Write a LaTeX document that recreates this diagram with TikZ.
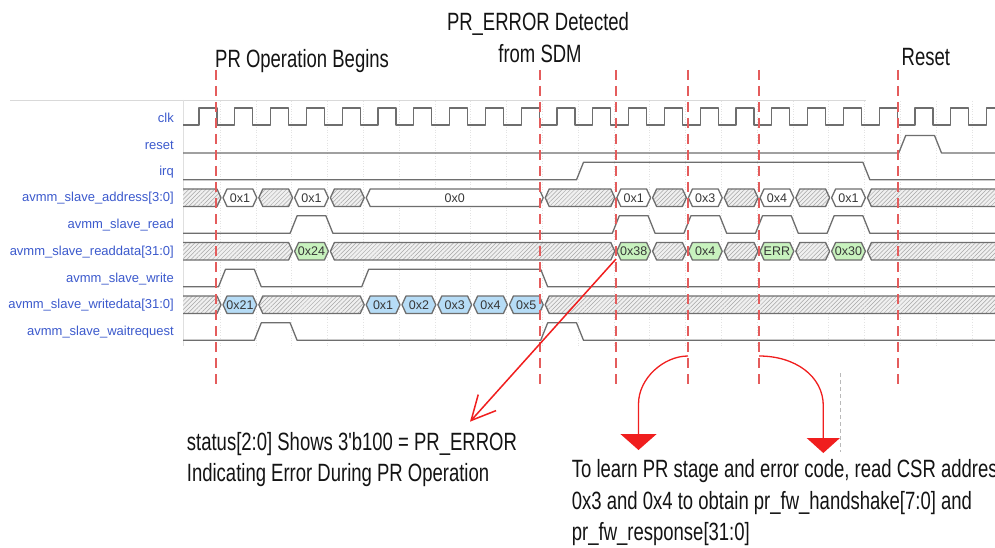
\documentclass[tikz,border=0pt]{standalone}
\usepackage{fontspec}
\usetikzlibrary{arrows.meta,patterns.meta}
\newfontfamily\lsans{Liberation Sans}
\newfontfamily\annfont{Liberation Sans}[FakeStretch=0.74]
\definecolor{sigblue}{RGB}{60,90,205}
\definecolor{wavegray}{RGB}{110,110,110}
\definecolor{dashred}{RGB}{228,92,92}
\definecolor{arrred}{RGB}{240,30,30}
\definecolor{cellgreen}{RGB}{200,242,190}
\definecolor{cellblue}{RGB}{182,220,246}
\definecolor{celltxt}{RGB}{55,55,55}
\tikzset{
  wave/.style={draw=wavegray, line width=1.3pt, line join=round},
  sig/.style={font=\lsans\fontsize{13}{15}\selectfont, text=sigblue, anchor=east, inner sep=0pt},
  ctext/.style={font=\lsans\fontsize{12.5}{14}\selectfont, text=celltxt, inner sep=0pt},
  hatchfill/.style={preaction={fill=gray!12}, pattern={Lines[angle=45,distance=3pt,line width=0.5pt]}, pattern color=gray!70},
  hatchcell/.style={hatchfill, wave},
  whitecell/.style={wave, fill=white},
  greencell/.style={wave, fill=cellgreen},
  bluecell/.style={wave, fill=cellblue},
  marker/.style={draw=dashred, line width=1.6pt, dash pattern=on 10pt off 6pt},
  ann/.style={font=\annfont\fontsize{25}{31.5}\selectfont, text=black!92, inner sep=0pt, anchor=base west},
}
% bus cell between transitions ka and kb on a row centred at c
\newcommand\tdcell[4]{%
  \path[#1] ({222+35.8*#2+1},{#4-0.75}) -- ({222+35.8*#2+5},{#4-9.5}) -- ({222+35.8*#3-5},{#4-9.5})
    -- ({222+35.8*#3-1},{#4-0.75}) -- ({222+35.8*#3-5},{#4+8}) -- ({222+35.8*#2+5},{#4+8}) -- cycle;}
\newcommand\tdval[6]{%
  \tdcell{#1}{#2}{#3}{#4}%
  \node[ctext] (#5) at ({222+35.8*(#2+#3)/2},{#4-0.5}) {#6};}
\newcommand\tdfirst[2]{% hatch from wave start to transition #1, row #2
  \path[hatchfill] (183,{#2-9.5}) -- ({222+35.8*#1-5},{#2-9.5}) -- ({222+35.8*#1-1},{#2-0.75})
    -- ({222+35.8*#1-5},{#2+8}) -- (183,{#2+8}) -- cycle;
  \draw[wave] (183,{#2-9.5}) -- ({222+35.8*#1-5},{#2-9.5}) -- ({222+35.8*#1-1},{#2-0.75})
    -- ({222+35.8*#1-5},{#2+8}) -- (183,{#2+8});}
\newcommand\tdlast[2]{% hatch from transition #1 to the right edge, row #2
  \path[hatchfill] (1000,{#2-9.5}) -- ({222+35.8*#1+5},{#2-9.5}) -- ({222+35.8*#1+1},{#2-0.75})
    -- ({222+35.8*#1+5},{#2+8}) -- (1000,{#2+8}) -- cycle;
  \draw[wave] (1000,{#2-9.5}) -- ({222+35.8*#1+5},{#2-9.5}) -- ({222+35.8*#1+1},{#2-0.75})
    -- ({222+35.8*#1+5},{#2+8}) -- (1000,{#2+8});}
\begin{document}
\begin{tikzpicture}[x=1pt,y=-1pt]
\useasboundingbox (0,0) rectangle (995,548);
\clip (0,0) rectangle (995,548);
\fill[white] (0,0) rectangle (995,548);
% frame and grid
\draw[gray!30, line width=.8pt] (10,100) -- (866,100);
\draw[gray!25, line width=.8pt] (183,100) -- (183,346);
\foreach \k in {0,...,21} \draw[gray!22, line width=.6pt, dotted] ({220+35.8*\k},101) -- ({220+35.8*\k},346);
% signal names
\node[sig] (lclk) at (174,118.3) {clk};
\node[sig] (lreset) at (174,145) {reset};
\node[sig] (lirq) at (174,171.8) {irq};
\node[sig] (laddr) at (174,198.5) {avmm\_slave\_address[3:0]};
\node[sig] (lread) at (174,225.3) {avmm\_slave\_read};
\node[sig] (lrdata) at (174,252) {avmm\_slave\_readdata[31:0]};
\node[sig] (lwrite) at (174,278.8) {avmm\_slave\_write};
\node[sig] (lwdata) at (174,305.5) {avmm\_slave\_writedata[31:0]};
\node[sig] (lwait) at (174,332.3) {avmm\_slave\_waitrequest};
% clk
\draw[wave] (183,125) foreach \k in {0,...,22} { -- ({199+35.8*\k},125) -- ({199+35.8*\k},108) -- ({217+35.8*\k},108) -- ({217+35.8*\k},125) };
% reset
\draw[wave] (183,153) -- (898.7,153) -- (905.7,135.5) -- (934.5,135.5) -- (941.5,153) -- (1000,153);
% irq
\draw[wave] (183,179.8) -- (576.5,179.8) -- (583.5,162.3) -- (862.9,162.3) -- (869.9,179.8) -- (1000,179.8);
% address
\tdfirst{0}{198.5}
\tdval{whitecell}{0}{1}{198.5}{a1}{0x1}
\tdcell{hatchcell}{1}{2}{198.5}
\tdval{whitecell}{2}{3}{198.5}{a2}{0x1}
\tdcell{hatchcell}{3}{4}{198.5}
\tdval{whitecell}{4}{9}{198.5}{a3}{0x0}
\tdcell{hatchcell}{9}{11}{198.5}
\tdval{whitecell}{11}{12}{198.5}{a4}{0x1}
\tdcell{hatchcell}{12}{13}{198.5}
\tdval{whitecell}{13}{14}{198.5}{a5}{0x3}
\tdcell{hatchcell}{14}{15}{198.5}
\tdval{whitecell}{15}{16}{198.5}{a6}{0x4}
\tdcell{hatchcell}{16}{17}{198.5}
\tdval{whitecell}{17}{18}{198.5}{a7}{0x1}
\tdlast{18}{198.5}
% read
\draw[wave] (183,233.3) foreach \a/\b in {2/3,11/12,13/14,15/16,17/18} { -- ({222+35.8*\a-3.5},233.3) -- ({222+35.8*\a+3.5},215.8) -- ({222+35.8*\b-3.5},215.8) -- ({222+35.8*\b+3.5},233.3) } -- (1000,233.3);
% readdata
\tdfirst{2}{252}
\tdval{greencell}{2}{3}{252}{r1}{0x24}
\tdcell{hatchcell}{3}{11}{252}
\tdval{greencell}{11}{12}{252}{r2}{0x38}
\tdcell{hatchcell}{12}{13}{252}
\tdval{greencell}{13}{14}{252}{r3}{0x4}
\tdcell{hatchcell}{14}{15}{252}
\tdval{greencell}{15}{16}{252}{r4}{ERR}
\tdcell{hatchcell}{16}{17}{252}
\tdval{greencell}{17}{18}{252}{r5}{0x30}
\tdlast{18}{252}
% write
\draw[wave] (183,286.8) foreach \a/\b in {0/1,4/9} { -- ({222+35.8*\a-3.5},286.8) -- ({222+35.8*\a+3.5},269.3) -- ({222+35.8*\b-3.5},269.3) -- ({222+35.8*\b+3.5},286.8) } -- (1000,286.8);
% writedata
\tdfirst{0}{305.5}
\tdval{bluecell}{0}{1}{305.5}{w1}{0x21}
\tdcell{hatchcell}{1}{4}{305.5}
\tdval{bluecell}{4}{5}{305.5}{w2}{0x1}
\tdval{bluecell}{5}{6}{305.5}{w3}{0x2}
\tdval{bluecell}{6}{7}{305.5}{w4}{0x3}
\tdval{bluecell}{7}{8}{305.5}{w5}{0x4}
\tdval{bluecell}{8}{9}{305.5}{w6}{0x5}
\tdlast{9}{305.5}
% waitrequest
\draw[wave] (183,340.3) foreach \a/\b in {1/2,9/10} { -- ({222+35.8*\a-3.5},340.3) -- ({222+35.8*\a+3.5},322.8) -- ({222+35.8*\b-3.5},322.8) -- ({222+35.8*\b+3.5},340.3) } -- (1000,340.3);
% event markers
\foreach \x in {216,540,616,688,759,898} \draw[marker] (\x,70) -- (\x,386);
% arrows
\coordinate (errsrc) at (616,259);
\coordinate (errtip) at (470,421.7);
\draw[arrred, line width=1.5pt, -{Straight Barb[length=24pt,width=24pt]}] (errsrc) -- (errtip);
\coordinate (c1s) at (688,356);
\coordinate (c1e) at (638.5,450);
\draw[arrred, line width=1.3pt, -{Triangle[width=36pt,length=16pt]}] (c1s) .. controls (664,356) and (638.5,378) .. (638.5,404) -- (c1e);
\coordinate (c2s) at (759,356);
\coordinate (c2e) at (823.3,453);
\draw[arrred, line width=1.3pt, -{Triangle[width=33pt,length=15pt]}] (c2s) .. controls (795,356) and (823.3,376) .. (823.3,406) -- (c2e);
\draw[gray!55, line width=.7pt, dash pattern=on 4pt off 3pt] (840.7,373) -- (840.7,452);
% annotations
\node[ann] (tbegin) at (215,68) {PR Operation Begins};
\node[ann, anchor=base] (terr1) at (538,31) {PR\_ERROR Detected};
\node[ann, anchor=base] (terr2) at (540,63) {from SDM};
\node[ann] (treset) at (901.5,66) {Reset};
\node[ann] (tstat1) at (186.7,450) {status[2:0] Shows 3'b100 = PR\_ERROR};
\node[ann] (tstat2) at (186.7,481.7) {Indicating Error During PR Operation};
\node[ann] (tcsr1) at (571.7,477) {To learn PR stage and error code, read CSR address};
\node[ann] (tcsr2) at (571.7,509) {0x3 and 0x4 to obtain pr\_fw\_handshake[7:0] and};
\node[ann] (tcsr3) at (571.7,540.5) {pr\_fw\_response[31:0]};
\end{tikzpicture}
\end{document}
